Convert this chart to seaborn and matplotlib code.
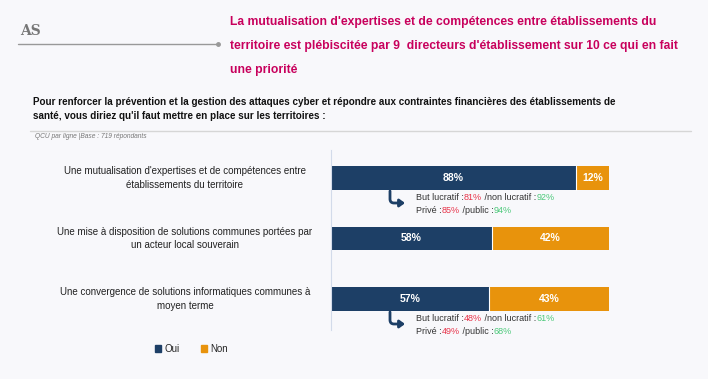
import matplotlib
matplotlib.use("Agg")
import matplotlib.pyplot as plt
import matplotlib.transforms as mtransforms
import seaborn as sns
import pandas as pd
from matplotlib.patches import Patch, FancyArrowPatch

# data
categories = [
    "Une mutualisation d'expertises et de compétences entre\nétablissements du territoire",
    "Une mise à disposition de solutions communes portées par\nun acteur local souverain",
    "Une convergence de solutions informatiques communes à\nmoyen terme",
]
oui = [88, 58, 57]
non = [12, 42, 43]
# sub-results shown under bars 1 and 3: (bar index, lucratif, non lucratif, privé, public)
details = [(0, 81, 92, 85, 94), (2, 48, 61, 49, 68)]

title = ("La mutualisation d'expertises et de compétences entre établissements du\n"
         "territoire est plébiscitée par 9  directeurs d'établissement sur 10 ce qui en fait\n"
         "une priorité")
question = ("Pour renforcer la prévention et la gestion des attaques cyber et répondre aux contraintes financières des établissements de\n"
            "santé, vous diriez qu'il faut mettre en place sur les territoires :")
note = "QCU par ligne |Base : 719 répondants"

NAVY = "#1d3f66"
ORANGE = "#e8930c"
MAGENTA = "#c8005c"
RED = "#e8344a"
GREEN = "#4cc97a"
BG = "#f8f8fb"

sns.set_theme(style="white")
plt.rcParams['font.family'] = ['Liberation Sans', 'DejaVu Sans']

W, H = 708, 379
fig = plt.figure(figsize=(W / 100, H / 100), dpi=100, facecolor=BG)

def fx(px):
    return px / W

def fy(py):
    return 1 - py / H

df = pd.DataFrame({"cat": categories, "oui": oui, "non": non})
df["total"] = df["oui"] + df["non"]

ax = fig.add_axes([fx(331), fy(330), fx(609) - fx(331), (330 - 150) / H])
ax.set_facecolor(BG)
sns.barplot(data=df, y="cat", x="total", color=ORANGE, orient="h", width=0.39,
            ax=ax, saturation=1, linewidth=0)
sns.barplot(data=df, y="cat", x="oui", color=NAVY, orient="h", width=0.39,
            ax=ax, saturation=1, linewidth=0)
# thin white separator
for i, v in enumerate(oui):
    ax.plot([v, v], [i - 0.195, i + 0.195], color="white", lw=0.8)

ax.set_xlim(0, 100)
ax.set_ylim(2.51, -0.46)
ax.set_xticks([])
ax.set_yticks([])
ax.set_xlabel("")
ax.set_ylabel("")
for s in ["top", "right", "bottom"]:
    ax.spines[s].set_visible(False)
ax.spines["left"].set_color("#d3dbea")
ax.spines["left"].set_linewidth(0.8)

label_tr = mtransforms.blended_transform_factory(fig.transFigure, ax.transData)
for i in range(len(categories)):
    ax.text(oui[i] / 2, i, f"{oui[i]}%", color="white", ha="center", va="center",
            fontsize=7.5, fontweight="bold")
    ax.text(oui[i] + non[i] / 2, i, f"{non[i]}%", color="white", ha="center", va="center",
            fontsize=7.5, fontweight="bold")
    ax.text(fx(185), i, categories[i], transform=label_tr,
            ha="center", va="center", fontsize=7, color="#222222", linespacing=1.45)

# detail annotations, drawn piece by piece to colour the percentages
def chain(x, y, parts, size=6.5):
    t = fig.text(fx(x), fy(y), parts[0][0], color=parts[0][1], fontsize=size, va="baseline", ha="left")
    for s, c in parts[1:]:
        t = ax.annotate(s, xy=(1, 0), xycoords=t, xytext=(0, 0), textcoords="offset points",
                        color=c, fontsize=size, va="bottom", ha="left", annotation_clip=False)

bar_bottom = {0: 191, 2: 312}
for idx, luc, nluc, priv, pub in details:
    yb = bar_bottom[idx]
    arr = FancyArrowPatch((fx(390), fy(yb)), (fx(405), fy(yb + 12)), transform=fig.transFigure,
                          connectionstyle="angle,angleA=90,angleB=0,rad=4",
                          arrowstyle="-|>,head_length=3,head_width=2.2", lw=2, color=NAVY,
                          shrinkA=0, shrinkB=0)
    fig.patches.append(arr)
    chain(416, yb + 9, [("But lucratif :", "#333333"), (f"{luc}%", RED), (" /non lucratif :", "#333333"),
                        (f"{nluc}%", GREEN)])
    chain(416, yb + 22, [("Privé :", "#333333"), (f"{priv}%", RED), (" /public :", "#333333"),
                         (f"{pub}%", GREEN)])

# header
fig.text(fx(230), fy(16), title, color=MAGENTA, fontsize=8.7, fontweight="bold", va="top", ha="left",
         linespacing=2.35)
fig.text(fx(20), fy(31), "AS", color="#777777", fontsize=10, fontweight="bold", va="center", ha="left",
         family=["DejaVu Serif"])
fig.add_artist(plt.Line2D([fx(18), fx(218)], [fy(44), fy(44)], color="#999999", lw=1))
fig.add_artist(plt.Line2D([fx(218)], [fy(44)], marker="o", ms=2.5, color="#999999"))

fig.text(fx(33), fy(97), question, color="#111111", fontsize=7.1, fontweight="bold", va="top", ha="left",
         linespacing=1.5)
fig.add_artist(plt.Line2D([fx(30), fx(691)], [fy(131), fy(131)], color="#d6d6d6", lw=1))
fig.text(fx(35), fy(137), note, color="#777777", fontsize=4.8, style="italic", va="center", ha="left")

handles = [Patch(color=NAVY, label="Oui"), Patch(color=ORANGE, label="Non")]
fig.legend(handles=handles, loc="center left", bbox_to_anchor=(fx(146), fy(349)), ncol=2, frameon=False,
           fontsize=7, handlelength=0.6, handleheight=0.6, handletextpad=0.4, columnspacing=2.2)

fig.savefig("out.png", dpi=100, facecolor=BG)
